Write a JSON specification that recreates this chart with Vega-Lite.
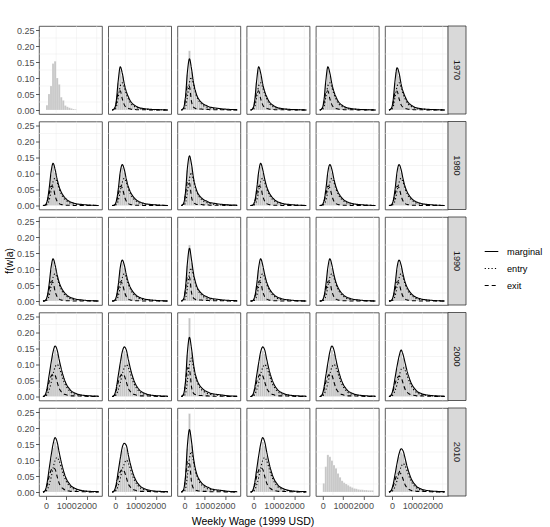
{
  "$schema": "https://vega.github.io/schema/vega-lite/v6.json",
  "padding": {"left": 4, "top": 25, "right": 5, "bottom": 2},
  "bounds": "flush",
  "spacing": {"row": 7.5, "column": 6.2},
  "data": {"values": [
{"g":"BI","t":1970,"w":50,"h":0.015,"s":"Black Immig."},
{"g":"BI","t":1970,"w":150,"h":0.05},
{"g":"BI","t":1970,"w":250,"h":0.075},
{"g":"BI","t":1970,"w":350,"h":0.145},
{"g":"BI","t":1970,"w":450,"h":0.152},
{"g":"BI","t":1970,"w":550,"h":0.1},
{"g":"BI","t":1970,"w":650,"h":0.08},
{"g":"BI","t":1970,"w":750,"h":0.04},
{"g":"BI","t":1970,"w":850,"h":0.03},
{"g":"BI","t":1970,"w":950,"h":0.014},
{"g":"BI","t":1970,"w":1050,"h":0.01},
{"g":"BI","t":1970,"w":1150,"h":0.007},
{"g":"BI","t":1970,"w":1250,"h":0.005},
{"g":"BI","t":1970,"w":1350,"h":0.003},
{"g":"BI","t":1970,"w":1450,"h":0.002},
{"g":"BN","t":1970,"w":-150,"m":0,"e":0,"x":0,"s":"Black Native"},
{"g":"BN","t":1970,"w":-50,"m":0.003,"e":0,"x":0.004},
{"g":"BN","t":1970,"w":50,"h":0.025,"m":0.027,"e":0.008,"x":0.02},
{"g":"BN","t":1970,"w":150,"h":0.085,"m":0.092,"e":0.04,"x":0.055},
{"g":"BN","t":1970,"w":250,"h":0.124,"m":0.135,"e":0.075,"x":0.06},
{"g":"BN","t":1970,"w":350,"h":0.106,"m":0.115,"e":0.085,"x":0.035},
{"g":"BN","t":1970,"w":450,"h":0.075,"m":0.081,"e":0.07,"x":0.016},
{"g":"BN","t":1970,"w":550,"h":0.052,"m":0.057,"e":0.05,"x":0.008},
{"g":"BN","t":1970,"w":650,"h":0.038,"m":0.041,"e":0.034,"x":0.005},
{"g":"BN","t":1970,"w":750,"h":0.026,"m":0.028,"e":0.022,"x":0.003},
{"g":"BN","t":1970,"w":850,"h":0.018,"m":0.02,"e":0.015,"x":0.002},
{"g":"BN","t":1970,"w":950,"h":0.014,"m":0.015,"e":0.011,"x":0.002},
{"g":"BN","t":1970,"w":1050,"h":0.01,"m":0.011,"e":0.008,"x":0.001},
{"g":"BN","t":1970,"w":1150,"h":0.007,"m":0.008,"e":0.006,"x":0.001},
{"g":"BN","t":1970,"w":1250,"h":0.006,"m":0.006,"e":0.004,"x":0.001},
{"g":"BN","t":1970,"w":1350,"h":0.005,"m":0.005,"e":0.003,"x":0.001},
{"g":"BN","t":1970,"w":1450,"h":0.004,"m":0.004,"e":0.003,"x":0.001},
{"g":"BN","t":1970,"w":1800,"m":0.002,"e":0.001,"x":0},
{"g":"BN","t":1970,"w":2200,"m":0.001,"e":0.001,"x":0},
{"g":"BN","t":1970,"w":2600,"m":0,"e":0,"x":0},
{"g":"HI","t":1970,"w":-150,"m":0,"e":0,"x":0,"s":"Hispanic Immig."},
{"g":"HI","t":1970,"w":-50,"m":0.005,"e":0.001,"x":0.004},
{"g":"HI","t":1970,"w":50,"h":0.036,"m":0.039,"e":0.007,"x":0.032},
{"g":"HI","t":1970,"w":150,"h":0.11,"m":0.12,"e":0.043,"x":0.077},
{"g":"HI","t":1970,"w":250,"h":0.185,"m":0.16,"e":0.086,"x":0.073},
{"g":"HI","t":1970,"w":350,"h":0.119,"m":0.129,"e":0.103,"x":0.026},
{"g":"HI","t":1970,"w":450,"h":0.079,"m":0.086,"e":0.077,"x":0.009},
{"g":"HI","t":1970,"w":550,"h":0.053,"m":0.058,"e":0.052,"x":0.005},
{"g":"HI","t":1970,"w":650,"h":0.037,"m":0.04,"e":0.036,"x":0.003},
{"g":"HI","t":1970,"w":750,"h":0.028,"m":0.03,"e":0.025,"x":0.003},
{"g":"HI","t":1970,"w":850,"h":0.021,"m":0.023,"e":0.018,"x":0.003},
{"g":"HI","t":1970,"w":950,"h":0.017,"m":0.018,"e":0.013,"x":0.002},
{"g":"HI","t":1970,"w":1050,"h":0.014,"m":0.015,"e":0.01,"x":0.002},
{"g":"HI","t":1970,"w":1150,"h":0.011,"m":0.012,"e":0.008,"x":0.002},
{"g":"HI","t":1970,"w":1250,"h":0.008,"m":0.009,"e":0.006,"x":0.001},
{"g":"HI","t":1970,"w":1350,"h":0.007,"m":0.008,"e":0.005,"x":0.001},
{"g":"HI","t":1970,"w":1450,"h":0.006,"m":0.007,"e":0.004,"x":0.001},
{"g":"HI","t":1970,"w":1800,"m":0.004,"e":0.002,"x":0.001},
{"g":"HI","t":1970,"w":2200,"m":0.002,"e":0.001,"x":0},
{"g":"HI","t":1970,"w":2600,"m":0.001,"e":0,"x":0},
{"g":"HN","t":1970,"w":-150,"m":0,"e":0,"x":0,"s":"Hispanic Native"},
{"g":"HN","t":1970,"w":-50,"m":0.003,"e":0,"x":0.004},
{"g":"HN","t":1970,"w":50,"h":0.025,"m":0.027,"e":0.008,"x":0.02},
{"g":"HN","t":1970,"w":150,"h":0.085,"m":0.092,"e":0.04,"x":0.055},
{"g":"HN","t":1970,"w":250,"h":0.124,"m":0.135,"e":0.075,"x":0.06},
{"g":"HN","t":1970,"w":350,"h":0.106,"m":0.115,"e":0.085,"x":0.035},
{"g":"HN","t":1970,"w":450,"h":0.075,"m":0.081,"e":0.07,"x":0.016},
{"g":"HN","t":1970,"w":550,"h":0.052,"m":0.057,"e":0.05,"x":0.008},
{"g":"HN","t":1970,"w":650,"h":0.038,"m":0.041,"e":0.034,"x":0.005},
{"g":"HN","t":1970,"w":750,"h":0.026,"m":0.028,"e":0.022,"x":0.003},
{"g":"HN","t":1970,"w":850,"h":0.018,"m":0.02,"e":0.015,"x":0.002},
{"g":"HN","t":1970,"w":950,"h":0.014,"m":0.015,"e":0.011,"x":0.002},
{"g":"HN","t":1970,"w":1050,"h":0.01,"m":0.011,"e":0.008,"x":0.001},
{"g":"HN","t":1970,"w":1150,"h":0.007,"m":0.008,"e":0.006,"x":0.001},
{"g":"HN","t":1970,"w":1250,"h":0.006,"m":0.006,"e":0.004,"x":0.001},
{"g":"HN","t":1970,"w":1350,"h":0.005,"m":0.005,"e":0.003,"x":0.001},
{"g":"HN","t":1970,"w":1450,"h":0.004,"m":0.004,"e":0.003,"x":0.001},
{"g":"HN","t":1970,"w":1800,"m":0.002,"e":0.001,"x":0},
{"g":"HN","t":1970,"w":2200,"m":0.001,"e":0.001,"x":0},
{"g":"HN","t":1970,"w":2600,"m":0,"e":0,"x":0},
{"g":"WI","t":1970,"w":-150,"m":0,"e":0,"x":0,"s":"White Immig."},
{"g":"WI","t":1970,"w":-50,"m":0.003,"e":0,"x":0.004},
{"g":"WI","t":1970,"w":50,"h":0.025,"m":0.027,"e":0.008,"x":0.02},
{"g":"WI","t":1970,"w":150,"h":0.085,"m":0.092,"e":0.04,"x":0.055},
{"g":"WI","t":1970,"w":250,"h":0.124,"m":0.135,"e":0.075,"x":0.06},
{"g":"WI","t":1970,"w":350,"h":0.106,"m":0.115,"e":0.085,"x":0.035},
{"g":"WI","t":1970,"w":450,"h":0.075,"m":0.081,"e":0.07,"x":0.016},
{"g":"WI","t":1970,"w":550,"h":0.052,"m":0.057,"e":0.05,"x":0.008},
{"g":"WI","t":1970,"w":650,"h":0.038,"m":0.041,"e":0.034,"x":0.005},
{"g":"WI","t":1970,"w":750,"h":0.026,"m":0.028,"e":0.022,"x":0.003},
{"g":"WI","t":1970,"w":850,"h":0.018,"m":0.02,"e":0.015,"x":0.002},
{"g":"WI","t":1970,"w":950,"h":0.014,"m":0.015,"e":0.011,"x":0.002},
{"g":"WI","t":1970,"w":1050,"h":0.01,"m":0.011,"e":0.008,"x":0.001},
{"g":"WI","t":1970,"w":1150,"h":0.007,"m":0.008,"e":0.006,"x":0.001},
{"g":"WI","t":1970,"w":1250,"h":0.006,"m":0.006,"e":0.004,"x":0.001},
{"g":"WI","t":1970,"w":1350,"h":0.005,"m":0.005,"e":0.003,"x":0.001},
{"g":"WI","t":1970,"w":1450,"h":0.004,"m":0.004,"e":0.003,"x":0.001},
{"g":"WI","t":1970,"w":1800,"m":0.002,"e":0.001,"x":0},
{"g":"WI","t":1970,"w":2200,"m":0.001,"e":0.001,"x":0},
{"g":"WI","t":1970,"w":2600,"m":0,"e":0,"x":0},
{"g":"WN","t":1970,"w":-150,"m":0,"e":0,"x":0,"s":"White Native","r":"1970"},
{"g":"WN","t":1970,"w":-50,"m":0.003,"e":0,"x":0.004},
{"g":"WN","t":1970,"w":50,"h":0.025,"m":0.027,"e":0.008,"x":0.02},
{"g":"WN","t":1970,"w":150,"h":0.085,"m":0.092,"e":0.04,"x":0.055},
{"g":"WN","t":1970,"w":250,"h":0.124,"m":0.132,"e":0.073,"x":0.059},
{"g":"WN","t":1970,"w":350,"h":0.106,"m":0.115,"e":0.085,"x":0.035},
{"g":"WN","t":1970,"w":450,"h":0.075,"m":0.081,"e":0.07,"x":0.016},
{"g":"WN","t":1970,"w":550,"h":0.052,"m":0.057,"e":0.05,"x":0.008},
{"g":"WN","t":1970,"w":650,"h":0.038,"m":0.041,"e":0.034,"x":0.005},
{"g":"WN","t":1970,"w":750,"h":0.026,"m":0.028,"e":0.022,"x":0.003},
{"g":"WN","t":1970,"w":850,"h":0.018,"m":0.02,"e":0.015,"x":0.002},
{"g":"WN","t":1970,"w":950,"h":0.014,"m":0.015,"e":0.011,"x":0.002},
{"g":"WN","t":1970,"w":1050,"h":0.01,"m":0.011,"e":0.008,"x":0.001},
{"g":"WN","t":1970,"w":1150,"h":0.007,"m":0.008,"e":0.006,"x":0.001},
{"g":"WN","t":1970,"w":1250,"h":0.006,"m":0.006,"e":0.004,"x":0.001},
{"g":"WN","t":1970,"w":1350,"h":0.005,"m":0.005,"e":0.003,"x":0.001},
{"g":"WN","t":1970,"w":1450,"h":0.004,"m":0.004,"e":0.003,"x":0.001},
{"g":"WN","t":1970,"w":1800,"m":0.002,"e":0.001,"x":0},
{"g":"WN","t":1970,"w":2200,"m":0.001,"e":0.001,"x":0},
{"g":"WN","t":1970,"w":2600,"m":0,"e":0,"x":0},
{"g":"BI","t":1980,"w":-150,"m":0,"e":0,"x":0},
{"g":"BI","t":1980,"w":-50,"m":0.001,"e":0,"x":0.001},
{"g":"BI","t":1980,"w":50,"h":0.011,"m":0.012,"e":0.003,"x":0.01},
{"g":"BI","t":1980,"w":150,"h":0.046,"m":0.05,"e":0.015,"x":0.035},
{"g":"BI","t":1980,"w":250,"h":0.097,"m":0.105,"e":0.045,"x":0.06},
{"g":"BI","t":1980,"w":350,"h":0.121,"m":0.132,"e":0.075,"x":0.057},
{"g":"BI","t":1980,"w":450,"h":0.103,"m":0.112,"e":0.085,"x":0.03},
{"g":"BI","t":1980,"w":550,"h":0.075,"m":0.082,"e":0.072,"x":0.013},
{"g":"BI","t":1980,"w":650,"h":0.053,"m":0.058,"e":0.052,"x":0.006},
{"g":"BI","t":1980,"w":750,"h":0.039,"m":0.042,"e":0.036,"x":0.003},
{"g":"BI","t":1980,"w":850,"h":0.029,"m":0.031,"e":0.025,"x":0.002},
{"g":"BI","t":1980,"w":950,"h":0.021,"m":0.023,"e":0.018,"x":0.001},
{"g":"BI","t":1980,"w":1050,"h":0.016,"m":0.017,"e":0.013,"x":0.001},
{"g":"BI","t":1980,"w":1150,"h":0.012,"m":0.013,"e":0.009,"x":0.001},
{"g":"BI","t":1980,"w":1250,"h":0.009,"m":0.01,"e":0.007,"x":0.001},
{"g":"BI","t":1980,"w":1350,"h":0.007,"m":0.008,"e":0.005,"x":0},
{"g":"BI","t":1980,"w":1450,"h":0.006,"m":0.006,"e":0.004,"x":0},
{"g":"BI","t":1980,"w":1800,"m":0.003,"e":0.002,"x":0},
{"g":"BI","t":1980,"w":2200,"m":0.001,"e":0.001,"x":0},
{"g":"BI","t":1980,"w":2600,"m":0,"e":0,"x":0},
{"g":"BN","t":1980,"w":-150,"m":0,"e":0,"x":0},
{"g":"BN","t":1980,"w":-50,"m":0.001,"e":0,"x":0.001},
{"g":"BN","t":1980,"w":50,"h":0.011,"m":0.012,"e":0.003,"x":0.01},
{"g":"BN","t":1980,"w":150,"h":0.046,"m":0.05,"e":0.015,"x":0.035},
{"g":"BN","t":1980,"w":250,"h":0.097,"m":0.105,"e":0.045,"x":0.06},
{"g":"BN","t":1980,"w":350,"h":0.118,"m":0.128,"e":0.073,"x":0.055},
{"g":"BN","t":1980,"w":450,"h":0.103,"m":0.112,"e":0.085,"x":0.03},
{"g":"BN","t":1980,"w":550,"h":0.075,"m":0.082,"e":0.072,"x":0.013},
{"g":"BN","t":1980,"w":650,"h":0.053,"m":0.058,"e":0.052,"x":0.006},
{"g":"BN","t":1980,"w":750,"h":0.039,"m":0.042,"e":0.036,"x":0.003},
{"g":"BN","t":1980,"w":850,"h":0.029,"m":0.031,"e":0.025,"x":0.002},
{"g":"BN","t":1980,"w":950,"h":0.021,"m":0.023,"e":0.018,"x":0.001},
{"g":"BN","t":1980,"w":1050,"h":0.016,"m":0.017,"e":0.013,"x":0.001},
{"g":"BN","t":1980,"w":1150,"h":0.012,"m":0.013,"e":0.009,"x":0.001},
{"g":"BN","t":1980,"w":1250,"h":0.009,"m":0.01,"e":0.007,"x":0.001},
{"g":"BN","t":1980,"w":1350,"h":0.007,"m":0.008,"e":0.005,"x":0},
{"g":"BN","t":1980,"w":1450,"h":0.006,"m":0.006,"e":0.004,"x":0},
{"g":"BN","t":1980,"w":1800,"m":0.003,"e":0.002,"x":0},
{"g":"BN","t":1980,"w":2200,"m":0.001,"e":0.001,"x":0},
{"g":"BN","t":1980,"w":2600,"m":0,"e":0,"x":0},
{"g":"HI","t":1980,"w":-150,"m":0,"e":0,"x":0},
{"g":"HI","t":1980,"w":-50,"m":0.005,"e":0.001,"x":0.004},
{"g":"HI","t":1980,"w":50,"h":0.036,"m":0.039,"e":0.007,"x":0.032},
{"g":"HI","t":1980,"w":150,"h":0.11,"m":0.118,"e":0.043,"x":0.075},
{"g":"HI","t":1980,"w":250,"h":0.148,"m":0.155,"e":0.084,"x":0.071},
{"g":"HI","t":1980,"w":350,"h":0.119,"m":0.129,"e":0.103,"x":0.026},
{"g":"HI","t":1980,"w":450,"h":0.079,"m":0.086,"e":0.077,"x":0.009},
{"g":"HI","t":1980,"w":550,"h":0.053,"m":0.058,"e":0.052,"x":0.005},
{"g":"HI","t":1980,"w":650,"h":0.037,"m":0.04,"e":0.036,"x":0.003},
{"g":"HI","t":1980,"w":750,"h":0.028,"m":0.03,"e":0.025,"x":0.003},
{"g":"HI","t":1980,"w":850,"h":0.021,"m":0.023,"e":0.018,"x":0.003},
{"g":"HI","t":1980,"w":950,"h":0.017,"m":0.018,"e":0.013,"x":0.002},
{"g":"HI","t":1980,"w":1050,"h":0.014,"m":0.015,"e":0.01,"x":0.002},
{"g":"HI","t":1980,"w":1150,"h":0.011,"m":0.012,"e":0.008,"x":0.002},
{"g":"HI","t":1980,"w":1250,"h":0.008,"m":0.009,"e":0.006,"x":0.001},
{"g":"HI","t":1980,"w":1350,"h":0.007,"m":0.008,"e":0.005,"x":0.001},
{"g":"HI","t":1980,"w":1450,"h":0.006,"m":0.007,"e":0.004,"x":0.001},
{"g":"HI","t":1980,"w":1800,"m":0.004,"e":0.002,"x":0.001},
{"g":"HI","t":1980,"w":2200,"m":0.002,"e":0.001,"x":0},
{"g":"HI","t":1980,"w":2600,"m":0.001,"e":0,"x":0},
{"g":"HN","t":1980,"w":-150,"m":0,"e":0,"x":0},
{"g":"HN","t":1980,"w":-50,"m":0.001,"e":0,"x":0.001},
{"g":"HN","t":1980,"w":50,"h":0.011,"m":0.012,"e":0.003,"x":0.01},
{"g":"HN","t":1980,"w":150,"h":0.046,"m":0.05,"e":0.015,"x":0.035},
{"g":"HN","t":1980,"w":250,"h":0.097,"m":0.105,"e":0.045,"x":0.06},
{"g":"HN","t":1980,"w":350,"h":0.121,"m":0.132,"e":0.075,"x":0.057},
{"g":"HN","t":1980,"w":450,"h":0.103,"m":0.112,"e":0.085,"x":0.03},
{"g":"HN","t":1980,"w":550,"h":0.075,"m":0.082,"e":0.072,"x":0.013},
{"g":"HN","t":1980,"w":650,"h":0.053,"m":0.058,"e":0.052,"x":0.006},
{"g":"HN","t":1980,"w":750,"h":0.039,"m":0.042,"e":0.036,"x":0.003},
{"g":"HN","t":1980,"w":850,"h":0.029,"m":0.031,"e":0.025,"x":0.002},
{"g":"HN","t":1980,"w":950,"h":0.021,"m":0.023,"e":0.018,"x":0.001},
{"g":"HN","t":1980,"w":1050,"h":0.016,"m":0.017,"e":0.013,"x":0.001},
{"g":"HN","t":1980,"w":1150,"h":0.012,"m":0.013,"e":0.009,"x":0.001},
{"g":"HN","t":1980,"w":1250,"h":0.009,"m":0.01,"e":0.007,"x":0.001},
{"g":"HN","t":1980,"w":1350,"h":0.007,"m":0.008,"e":0.005,"x":0},
{"g":"HN","t":1980,"w":1450,"h":0.006,"m":0.006,"e":0.004,"x":0},
{"g":"HN","t":1980,"w":1800,"m":0.003,"e":0.002,"x":0},
{"g":"HN","t":1980,"w":2200,"m":0.001,"e":0.001,"x":0},
{"g":"HN","t":1980,"w":2600,"m":0,"e":0,"x":0},
{"g":"WI","t":1980,"w":-150,"m":0,"e":0,"x":0},
{"g":"WI","t":1980,"w":-50,"m":0.001,"e":0,"x":0.001},
{"g":"WI","t":1980,"w":50,"h":0.011,"m":0.012,"e":0.003,"x":0.01},
{"g":"WI","t":1980,"w":150,"h":0.046,"m":0.05,"e":0.015,"x":0.035},
{"g":"WI","t":1980,"w":250,"h":0.097,"m":0.105,"e":0.045,"x":0.06},
{"g":"WI","t":1980,"w":350,"h":0.118,"m":0.128,"e":0.073,"x":0.055},
{"g":"WI","t":1980,"w":450,"h":0.103,"m":0.112,"e":0.085,"x":0.03},
{"g":"WI","t":1980,"w":550,"h":0.075,"m":0.082,"e":0.072,"x":0.013},
{"g":"WI","t":1980,"w":650,"h":0.053,"m":0.058,"e":0.052,"x":0.006},
{"g":"WI","t":1980,"w":750,"h":0.039,"m":0.042,"e":0.036,"x":0.003},
{"g":"WI","t":1980,"w":850,"h":0.029,"m":0.031,"e":0.025,"x":0.002},
{"g":"WI","t":1980,"w":950,"h":0.021,"m":0.023,"e":0.018,"x":0.001},
{"g":"WI","t":1980,"w":1050,"h":0.016,"m":0.017,"e":0.013,"x":0.001},
{"g":"WI","t":1980,"w":1150,"h":0.012,"m":0.013,"e":0.009,"x":0.001},
{"g":"WI","t":1980,"w":1250,"h":0.009,"m":0.01,"e":0.007,"x":0.001},
{"g":"WI","t":1980,"w":1350,"h":0.007,"m":0.008,"e":0.005,"x":0},
{"g":"WI","t":1980,"w":1450,"h":0.006,"m":0.006,"e":0.004,"x":0},
{"g":"WI","t":1980,"w":1800,"m":0.003,"e":0.002,"x":0},
{"g":"WI","t":1980,"w":2200,"m":0.001,"e":0.001,"x":0},
{"g":"WI","t":1980,"w":2600,"m":0,"e":0,"x":0},
{"g":"WN","t":1980,"w":-150,"m":0,"e":0,"x":0,"r":"1980"},
{"g":"WN","t":1980,"w":-50,"m":0.001,"e":0,"x":0.001},
{"g":"WN","t":1980,"w":50,"h":0.011,"m":0.012,"e":0.003,"x":0.01},
{"g":"WN","t":1980,"w":150,"h":0.046,"m":0.05,"e":0.015,"x":0.035},
{"g":"WN","t":1980,"w":250,"h":0.097,"m":0.105,"e":0.045,"x":0.06},
{"g":"WN","t":1980,"w":350,"h":0.118,"m":0.128,"e":0.073,"x":0.055},
{"g":"WN","t":1980,"w":450,"h":0.103,"m":0.112,"e":0.085,"x":0.03},
{"g":"WN","t":1980,"w":550,"h":0.075,"m":0.082,"e":0.072,"x":0.013},
{"g":"WN","t":1980,"w":650,"h":0.053,"m":0.058,"e":0.052,"x":0.006},
{"g":"WN","t":1980,"w":750,"h":0.039,"m":0.042,"e":0.036,"x":0.003},
{"g":"WN","t":1980,"w":850,"h":0.029,"m":0.031,"e":0.025,"x":0.002},
{"g":"WN","t":1980,"w":950,"h":0.021,"m":0.023,"e":0.018,"x":0.001},
{"g":"WN","t":1980,"w":1050,"h":0.016,"m":0.017,"e":0.013,"x":0.001},
{"g":"WN","t":1980,"w":1150,"h":0.012,"m":0.013,"e":0.009,"x":0.001},
{"g":"WN","t":1980,"w":1250,"h":0.009,"m":0.01,"e":0.007,"x":0.001},
{"g":"WN","t":1980,"w":1350,"h":0.007,"m":0.008,"e":0.005,"x":0},
{"g":"WN","t":1980,"w":1450,"h":0.006,"m":0.006,"e":0.004,"x":0},
{"g":"WN","t":1980,"w":1800,"m":0.003,"e":0.002,"x":0},
{"g":"WN","t":1980,"w":2200,"m":0.001,"e":0.001,"x":0},
{"g":"WN","t":1980,"w":2600,"m":0,"e":0,"x":0},
{"g":"BI","t":1990,"w":-150,"m":0,"e":0,"x":0},
{"g":"BI","t":1990,"w":-50,"m":0.001,"e":0,"x":0.001},
{"g":"BI","t":1990,"w":50,"h":0.011,"m":0.012,"e":0.003,"x":0.01},
{"g":"BI","t":1990,"w":150,"h":0.046,"m":0.05,"e":0.015,"x":0.035},
{"g":"BI","t":1990,"w":250,"h":0.097,"m":0.105,"e":0.045,"x":0.06},
{"g":"BI","t":1990,"w":350,"h":0.121,"m":0.132,"e":0.075,"x":0.057},
{"g":"BI","t":1990,"w":450,"h":0.103,"m":0.112,"e":0.085,"x":0.03},
{"g":"BI","t":1990,"w":550,"h":0.075,"m":0.082,"e":0.072,"x":0.013},
{"g":"BI","t":1990,"w":650,"h":0.053,"m":0.058,"e":0.052,"x":0.006},
{"g":"BI","t":1990,"w":750,"h":0.039,"m":0.042,"e":0.036,"x":0.003},
{"g":"BI","t":1990,"w":850,"h":0.029,"m":0.031,"e":0.025,"x":0.002},
{"g":"BI","t":1990,"w":950,"h":0.021,"m":0.023,"e":0.018,"x":0.001},
{"g":"BI","t":1990,"w":1050,"h":0.016,"m":0.017,"e":0.013,"x":0.001},
{"g":"BI","t":1990,"w":1150,"h":0.012,"m":0.013,"e":0.009,"x":0.001},
{"g":"BI","t":1990,"w":1250,"h":0.009,"m":0.01,"e":0.007,"x":0.001},
{"g":"BI","t":1990,"w":1350,"h":0.007,"m":0.008,"e":0.005,"x":0},
{"g":"BI","t":1990,"w":1450,"h":0.006,"m":0.006,"e":0.004,"x":0},
{"g":"BI","t":1990,"w":1800,"m":0.003,"e":0.002,"x":0},
{"g":"BI","t":1990,"w":2200,"m":0.001,"e":0.001,"x":0},
{"g":"BI","t":1990,"w":2600,"m":0,"e":0,"x":0},
{"g":"BN","t":1990,"w":-150,"m":0,"e":0,"x":0},
{"g":"BN","t":1990,"w":-50,"m":0.001,"e":0,"x":0.001},
{"g":"BN","t":1990,"w":50,"h":0.011,"m":0.012,"e":0.003,"x":0.01},
{"g":"BN","t":1990,"w":150,"h":0.046,"m":0.05,"e":0.015,"x":0.035},
{"g":"BN","t":1990,"w":250,"h":0.097,"m":0.105,"e":0.045,"x":0.06},
{"g":"BN","t":1990,"w":350,"h":0.118,"m":0.128,"e":0.073,"x":0.055},
{"g":"BN","t":1990,"w":450,"h":0.103,"m":0.112,"e":0.085,"x":0.03},
{"g":"BN","t":1990,"w":550,"h":0.075,"m":0.082,"e":0.072,"x":0.013},
{"g":"BN","t":1990,"w":650,"h":0.053,"m":0.058,"e":0.052,"x":0.006},
{"g":"BN","t":1990,"w":750,"h":0.039,"m":0.042,"e":0.036,"x":0.003},
{"g":"BN","t":1990,"w":850,"h":0.029,"m":0.031,"e":0.025,"x":0.002},
{"g":"BN","t":1990,"w":950,"h":0.021,"m":0.023,"e":0.018,"x":0.001},
{"g":"BN","t":1990,"w":1050,"h":0.016,"m":0.017,"e":0.013,"x":0.001},
{"g":"BN","t":1990,"w":1150,"h":0.012,"m":0.013,"e":0.009,"x":0.001},
{"g":"BN","t":1990,"w":1250,"h":0.009,"m":0.01,"e":0.007,"x":0.001},
{"g":"BN","t":1990,"w":1350,"h":0.007,"m":0.008,"e":0.005,"x":0},
{"g":"BN","t":1990,"w":1450,"h":0.006,"m":0.006,"e":0.004,"x":0},
{"g":"BN","t":1990,"w":1800,"m":0.003,"e":0.002,"x":0},
{"g":"BN","t":1990,"w":2200,"m":0.001,"e":0.001,"x":0},
{"g":"BN","t":1990,"w":2600,"m":0,"e":0,"x":0},
{"g":"HI","t":1990,"w":-150,"m":0,"e":0,"x":0},
{"g":"HI","t":1990,"w":-50,"m":0.005,"e":0.001,"x":0.004},
{"g":"HI","t":1990,"w":50,"h":0.036,"m":0.039,"e":0.007,"x":0.032},
{"g":"HI","t":1990,"w":150,"h":0.11,"m":0.12,"e":0.043,"x":0.077},
{"g":"HI","t":1990,"w":250,"h":0.175,"m":0.165,"e":0.089,"x":0.075},
{"g":"HI","t":1990,"w":350,"h":0.119,"m":0.129,"e":0.103,"x":0.026},
{"g":"HI","t":1990,"w":450,"h":0.079,"m":0.086,"e":0.077,"x":0.009},
{"g":"HI","t":1990,"w":550,"h":0.053,"m":0.058,"e":0.052,"x":0.005},
{"g":"HI","t":1990,"w":650,"h":0.037,"m":0.04,"e":0.036,"x":0.003},
{"g":"HI","t":1990,"w":750,"h":0.028,"m":0.03,"e":0.025,"x":0.003},
{"g":"HI","t":1990,"w":850,"h":0.021,"m":0.023,"e":0.018,"x":0.003},
{"g":"HI","t":1990,"w":950,"h":0.017,"m":0.018,"e":0.013,"x":0.002},
{"g":"HI","t":1990,"w":1050,"h":0.014,"m":0.015,"e":0.01,"x":0.002},
{"g":"HI","t":1990,"w":1150,"h":0.011,"m":0.012,"e":0.008,"x":0.002},
{"g":"HI","t":1990,"w":1250,"h":0.008,"m":0.009,"e":0.006,"x":0.001},
{"g":"HI","t":1990,"w":1350,"h":0.007,"m":0.008,"e":0.005,"x":0.001},
{"g":"HI","t":1990,"w":1450,"h":0.006,"m":0.007,"e":0.004,"x":0.001},
{"g":"HI","t":1990,"w":1800,"m":0.004,"e":0.002,"x":0.001},
{"g":"HI","t":1990,"w":2200,"m":0.002,"e":0.001,"x":0},
{"g":"HI","t":1990,"w":2600,"m":0.001,"e":0,"x":0},
{"g":"HN","t":1990,"w":-150,"m":0,"e":0,"x":0},
{"g":"HN","t":1990,"w":-50,"m":0.001,"e":0,"x":0.001},
{"g":"HN","t":1990,"w":50,"h":0.011,"m":0.012,"e":0.003,"x":0.01},
{"g":"HN","t":1990,"w":150,"h":0.046,"m":0.05,"e":0.015,"x":0.035},
{"g":"HN","t":1990,"w":250,"h":0.097,"m":0.105,"e":0.045,"x":0.06},
{"g":"HN","t":1990,"w":350,"h":0.121,"m":0.132,"e":0.075,"x":0.057},
{"g":"HN","t":1990,"w":450,"h":0.103,"m":0.112,"e":0.085,"x":0.03},
{"g":"HN","t":1990,"w":550,"h":0.075,"m":0.082,"e":0.072,"x":0.013},
{"g":"HN","t":1990,"w":650,"h":0.053,"m":0.058,"e":0.052,"x":0.006},
{"g":"HN","t":1990,"w":750,"h":0.039,"m":0.042,"e":0.036,"x":0.003},
{"g":"HN","t":1990,"w":850,"h":0.029,"m":0.031,"e":0.025,"x":0.002},
{"g":"HN","t":1990,"w":950,"h":0.021,"m":0.023,"e":0.018,"x":0.001},
{"g":"HN","t":1990,"w":1050,"h":0.016,"m":0.017,"e":0.013,"x":0.001},
{"g":"HN","t":1990,"w":1150,"h":0.012,"m":0.013,"e":0.009,"x":0.001},
{"g":"HN","t":1990,"w":1250,"h":0.009,"m":0.01,"e":0.007,"x":0.001},
{"g":"HN","t":1990,"w":1350,"h":0.007,"m":0.008,"e":0.005,"x":0},
{"g":"HN","t":1990,"w":1450,"h":0.006,"m":0.006,"e":0.004,"x":0},
{"g":"HN","t":1990,"w":1800,"m":0.003,"e":0.002,"x":0},
{"g":"HN","t":1990,"w":2200,"m":0.001,"e":0.001,"x":0},
{"g":"HN","t":1990,"w":2600,"m":0,"e":0,"x":0},
{"g":"WI","t":1990,"w":-150,"m":0,"e":0,"x":0},
{"g":"WI","t":1990,"w":-50,"m":0.001,"e":0,"x":0.001},
{"g":"WI","t":1990,"w":50,"h":0.011,"m":0.012,"e":0.003,"x":0.01},
{"g":"WI","t":1990,"w":150,"h":0.046,"m":0.05,"e":0.015,"x":0.035},
{"g":"WI","t":1990,"w":250,"h":0.097,"m":0.105,"e":0.045,"x":0.06},
{"g":"WI","t":1990,"w":350,"h":0.121,"m":0.132,"e":0.075,"x":0.057},
{"g":"WI","t":1990,"w":450,"h":0.103,"m":0.112,"e":0.085,"x":0.03},
{"g":"WI","t":1990,"w":550,"h":0.075,"m":0.082,"e":0.072,"x":0.013},
{"g":"WI","t":1990,"w":650,"h":0.053,"m":0.058,"e":0.052,"x":0.006},
{"g":"WI","t":1990,"w":750,"h":0.039,"m":0.042,"e":0.036,"x":0.003},
{"g":"WI","t":1990,"w":850,"h":0.029,"m":0.031,"e":0.025,"x":0.002},
{"g":"WI","t":1990,"w":950,"h":0.021,"m":0.023,"e":0.018,"x":0.001},
{"g":"WI","t":1990,"w":1050,"h":0.016,"m":0.017,"e":0.013,"x":0.001},
{"g":"WI","t":1990,"w":1150,"h":0.012,"m":0.013,"e":0.009,"x":0.001},
{"g":"WI","t":1990,"w":1250,"h":0.009,"m":0.01,"e":0.007,"x":0.001},
{"g":"WI","t":1990,"w":1350,"h":0.007,"m":0.008,"e":0.005,"x":0},
{"g":"WI","t":1990,"w":1450,"h":0.006,"m":0.006,"e":0.004,"x":0},
{"g":"WI","t":1990,"w":1800,"m":0.003,"e":0.002,"x":0},
{"g":"WI","t":1990,"w":2200,"m":0.001,"e":0.001,"x":0},
{"g":"WI","t":1990,"w":2600,"m":0,"e":0,"x":0},
{"g":"WN","t":1990,"w":-150,"m":0,"e":0,"x":0,"r":"1990"},
{"g":"WN","t":1990,"w":-50,"m":0.001,"e":0,"x":0.001},
{"g":"WN","t":1990,"w":50,"h":0.011,"m":0.012,"e":0.003,"x":0.01},
{"g":"WN","t":1990,"w":150,"h":0.046,"m":0.05,"e":0.015,"x":0.035},
{"g":"WN","t":1990,"w":250,"h":0.097,"m":0.105,"e":0.045,"x":0.06},
{"g":"WN","t":1990,"w":350,"h":0.118,"m":0.128,"e":0.073,"x":0.055},
{"g":"WN","t":1990,"w":450,"h":0.103,"m":0.112,"e":0.085,"x":0.03},
{"g":"WN","t":1990,"w":550,"h":0.075,"m":0.082,"e":0.072,"x":0.013},
{"g":"WN","t":1990,"w":650,"h":0.053,"m":0.058,"e":0.052,"x":0.006},
{"g":"WN","t":1990,"w":750,"h":0.039,"m":0.042,"e":0.036,"x":0.003},
{"g":"WN","t":1990,"w":850,"h":0.029,"m":0.031,"e":0.025,"x":0.002},
{"g":"WN","t":1990,"w":950,"h":0.021,"m":0.023,"e":0.018,"x":0.001},
{"g":"WN","t":1990,"w":1050,"h":0.016,"m":0.017,"e":0.013,"x":0.001},
{"g":"WN","t":1990,"w":1150,"h":0.012,"m":0.013,"e":0.009,"x":0.001},
{"g":"WN","t":1990,"w":1250,"h":0.009,"m":0.01,"e":0.007,"x":0.001},
{"g":"WN","t":1990,"w":1350,"h":0.007,"m":0.008,"e":0.005,"x":0},
{"g":"WN","t":1990,"w":1450,"h":0.006,"m":0.006,"e":0.004,"x":0},
{"g":"WN","t":1990,"w":1800,"m":0.003,"e":0.002,"x":0},
{"g":"WN","t":1990,"w":2200,"m":0.001,"e":0.001,"x":0},
{"g":"WN","t":1990,"w":2600,"m":0,"e":0,"x":0},
{"g":"BI","t":2000,"w":-150,"m":0,"e":0,"x":0},
{"g":"BI","t":2000,"w":-50,"m":0.004,"e":0.001,"x":0.003},
{"g":"BI","t":2000,"w":50,"h":0.023,"m":0.025,"e":0.006,"x":0.019},
{"g":"BI","t":2000,"w":150,"h":0.06,"m":0.065,"e":0.02,"x":0.045},
{"g":"BI","t":2000,"w":250,"h":0.097,"m":0.105,"e":0.042,"x":0.063},
{"g":"BI","t":2000,"w":350,"h":0.129,"m":0.14,"e":0.07,"x":0.07},
{"g":"BI","t":2000,"w":450,"h":0.145,"m":0.158,"e":0.092,"x":0.066},
{"g":"BI","t":2000,"w":550,"h":0.133,"m":0.145,"e":0.1,"x":0.045},
{"g":"BI","t":2000,"w":650,"h":0.106,"m":0.115,"e":0.09,"x":0.025},
{"g":"BI","t":2000,"w":750,"h":0.08,"m":0.087,"e":0.072,"x":0.015},
{"g":"BI","t":2000,"w":850,"h":0.059,"m":0.064,"e":0.052,"x":0.009},
{"g":"BI","t":2000,"w":950,"h":0.042,"m":0.046,"e":0.037,"x":0.006},
{"g":"BI","t":2000,"w":1050,"h":0.03,"m":0.033,"e":0.026,"x":0.004},
{"g":"BI","t":2000,"w":1150,"h":0.022,"m":0.024,"e":0.018,"x":0.003},
{"g":"BI","t":2000,"w":1250,"h":0.016,"m":0.017,"e":0.012,"x":0.002},
{"g":"BI","t":2000,"w":1350,"h":0.012,"m":0.013,"e":0.009,"x":0.002},
{"g":"BI","t":2000,"w":1450,"h":0.009,"m":0.01,"e":0.007,"x":0.002},
{"g":"BI","t":2000,"w":1800,"m":0.004,"e":0.003,"x":0.001},
{"g":"BI","t":2000,"w":2200,"m":0.002,"e":0.001,"x":0},
{"g":"BI","t":2000,"w":2600,"m":0.001,"e":0,"x":0},
{"g":"BN","t":2000,"w":-150,"m":0,"e":0,"x":0},
{"g":"BN","t":2000,"w":-50,"m":0.004,"e":0.001,"x":0.003},
{"g":"BN","t":2000,"w":50,"h":0.023,"m":0.025,"e":0.006,"x":0.019},
{"g":"BN","t":2000,"w":150,"h":0.06,"m":0.065,"e":0.02,"x":0.045},
{"g":"BN","t":2000,"w":250,"h":0.097,"m":0.105,"e":0.042,"x":0.063},
{"g":"BN","t":2000,"w":350,"h":0.129,"m":0.14,"e":0.07,"x":0.07},
{"g":"BN","t":2000,"w":450,"h":0.143,"m":0.155,"e":0.09,"x":0.065},
{"g":"BN","t":2000,"w":550,"h":0.133,"m":0.145,"e":0.1,"x":0.045},
{"g":"BN","t":2000,"w":650,"h":0.106,"m":0.115,"e":0.09,"x":0.025},
{"g":"BN","t":2000,"w":750,"h":0.08,"m":0.087,"e":0.072,"x":0.015},
{"g":"BN","t":2000,"w":850,"h":0.059,"m":0.064,"e":0.052,"x":0.009},
{"g":"BN","t":2000,"w":950,"h":0.042,"m":0.046,"e":0.037,"x":0.006},
{"g":"BN","t":2000,"w":1050,"h":0.03,"m":0.033,"e":0.026,"x":0.004},
{"g":"BN","t":2000,"w":1150,"h":0.022,"m":0.024,"e":0.018,"x":0.003},
{"g":"BN","t":2000,"w":1250,"h":0.016,"m":0.017,"e":0.012,"x":0.002},
{"g":"BN","t":2000,"w":1350,"h":0.012,"m":0.013,"e":0.009,"x":0.002},
{"g":"BN","t":2000,"w":1450,"h":0.009,"m":0.01,"e":0.007,"x":0.002},
{"g":"BN","t":2000,"w":1800,"m":0.004,"e":0.003,"x":0.001},
{"g":"BN","t":2000,"w":2200,"m":0.002,"e":0.001,"x":0},
{"g":"BN","t":2000,"w":2600,"m":0.001,"e":0,"x":0},
{"g":"HI","t":2000,"w":-150,"m":0,"e":0,"x":0},
{"g":"HI","t":2000,"w":-50,"m":0.006,"e":0.001,"x":0.005},
{"g":"HI","t":2000,"w":50,"h":0.041,"m":0.045,"e":0.008,"x":0.037},
{"g":"HI","t":2000,"w":150,"h":0.129,"m":0.14,"e":0.05,"x":0.09},
{"g":"HI","t":2000,"w":250,"h":0.245,"m":0.185,"e":0.1,"x":0.085},
{"g":"HI","t":2000,"w":350,"h":0.138,"m":0.15,"e":0.12,"x":0.03},
{"g":"HI","t":2000,"w":450,"h":0.092,"m":0.1,"e":0.09,"x":0.01},
{"g":"HI","t":2000,"w":550,"h":0.062,"m":0.067,"e":0.06,"x":0.006},
{"g":"HI","t":2000,"w":650,"h":0.043,"m":0.047,"e":0.042,"x":0.004},
{"g":"HI","t":2000,"w":750,"h":0.032,"m":0.035,"e":0.029,"x":0.003},
{"g":"HI","t":2000,"w":850,"h":0.025,"m":0.027,"e":0.021,"x":0.003},
{"g":"HI","t":2000,"w":950,"h":0.019,"m":0.021,"e":0.016,"x":0.002},
{"g":"HI","t":2000,"w":1050,"h":0.016,"m":0.017,"e":0.012,"x":0.002},
{"g":"HI","t":2000,"w":1150,"h":0.013,"m":0.014,"e":0.009,"x":0.002},
{"g":"HI","t":2000,"w":1250,"h":0.01,"m":0.011,"e":0.007,"x":0.001},
{"g":"HI","t":2000,"w":1350,"h":0.008,"m":0.009,"e":0.006,"x":0.001},
{"g":"HI","t":2000,"w":1450,"h":0.007,"m":0.008,"e":0.005,"x":0.001},
{"g":"HI","t":2000,"w":1800,"m":0.005,"e":0.003,"x":0.001},
{"g":"HI","t":2000,"w":2200,"m":0.002,"e":0.001,"x":0},
{"g":"HI","t":2000,"w":2600,"m":0.001,"e":0,"x":0},
{"g":"HN","t":2000,"w":-150,"m":0,"e":0,"x":0},
{"g":"HN","t":2000,"w":-50,"m":0.004,"e":0.001,"x":0.003},
{"g":"HN","t":2000,"w":50,"h":0.023,"m":0.025,"e":0.006,"x":0.019},
{"g":"HN","t":2000,"w":150,"h":0.06,"m":0.065,"e":0.02,"x":0.045},
{"g":"HN","t":2000,"w":250,"h":0.097,"m":0.105,"e":0.042,"x":0.063},
{"g":"HN","t":2000,"w":350,"h":0.129,"m":0.14,"e":0.07,"x":0.07},
{"g":"HN","t":2000,"w":450,"h":0.143,"m":0.155,"e":0.09,"x":0.065},
{"g":"HN","t":2000,"w":550,"h":0.133,"m":0.145,"e":0.1,"x":0.045},
{"g":"HN","t":2000,"w":650,"h":0.106,"m":0.115,"e":0.09,"x":0.025},
{"g":"HN","t":2000,"w":750,"h":0.08,"m":0.087,"e":0.072,"x":0.015},
{"g":"HN","t":2000,"w":850,"h":0.059,"m":0.064,"e":0.052,"x":0.009},
{"g":"HN","t":2000,"w":950,"h":0.042,"m":0.046,"e":0.037,"x":0.006},
{"g":"HN","t":2000,"w":1050,"h":0.03,"m":0.033,"e":0.026,"x":0.004},
{"g":"HN","t":2000,"w":1150,"h":0.022,"m":0.024,"e":0.018,"x":0.003},
{"g":"HN","t":2000,"w":1250,"h":0.016,"m":0.017,"e":0.012,"x":0.002},
{"g":"HN","t":2000,"w":1350,"h":0.012,"m":0.013,"e":0.009,"x":0.002},
{"g":"HN","t":2000,"w":1450,"h":0.009,"m":0.01,"e":0.007,"x":0.002},
{"g":"HN","t":2000,"w":1800,"m":0.004,"e":0.003,"x":0.001},
{"g":"HN","t":2000,"w":2200,"m":0.002,"e":0.001,"x":0},
{"g":"HN","t":2000,"w":2600,"m":0.001,"e":0,"x":0},
{"g":"WI","t":2000,"w":-150,"m":0,"e":0,"x":0},
{"g":"WI","t":2000,"w":-50,"m":0.004,"e":0.001,"x":0.003},
{"g":"WI","t":2000,"w":50,"h":0.023,"m":0.025,"e":0.006,"x":0.019},
{"g":"WI","t":2000,"w":150,"h":0.06,"m":0.065,"e":0.02,"x":0.045},
{"g":"WI","t":2000,"w":250,"h":0.097,"m":0.105,"e":0.042,"x":0.063},
{"g":"WI","t":2000,"w":350,"h":0.129,"m":0.14,"e":0.07,"x":0.07},
{"g":"WI","t":2000,"w":450,"h":0.145,"m":0.158,"e":0.092,"x":0.066},
{"g":"WI","t":2000,"w":550,"h":0.133,"m":0.145,"e":0.1,"x":0.045},
{"g":"WI","t":2000,"w":650,"h":0.106,"m":0.115,"e":0.09,"x":0.025},
{"g":"WI","t":2000,"w":750,"h":0.08,"m":0.087,"e":0.072,"x":0.015},
{"g":"WI","t":2000,"w":850,"h":0.059,"m":0.064,"e":0.052,"x":0.009},
{"g":"WI","t":2000,"w":950,"h":0.042,"m":0.046,"e":0.037,"x":0.006},
{"g":"WI","t":2000,"w":1050,"h":0.03,"m":0.033,"e":0.026,"x":0.004},
{"g":"WI","t":2000,"w":1150,"h":0.022,"m":0.024,"e":0.018,"x":0.003},
{"g":"WI","t":2000,"w":1250,"h":0.016,"m":0.017,"e":0.012,"x":0.002},
{"g":"WI","t":2000,"w":1350,"h":0.012,"m":0.013,"e":0.009,"x":0.002},
{"g":"WI","t":2000,"w":1450,"h":0.009,"m":0.01,"e":0.007,"x":0.002},
{"g":"WI","t":2000,"w":1800,"m":0.004,"e":0.003,"x":0.001},
{"g":"WI","t":2000,"w":2200,"m":0.002,"e":0.001,"x":0},
{"g":"WI","t":2000,"w":2600,"m":0.001,"e":0,"x":0},
{"g":"WN","t":2000,"w":-150,"m":0,"e":0,"x":0,"r":"2000"},
{"g":"WN","t":2000,"w":-50,"m":0.004,"e":0.001,"x":0.003},
{"g":"WN","t":2000,"w":50,"h":0.02,"m":0.022,"e":0.005,"x":0.017},
{"g":"WN","t":2000,"w":150,"h":0.053,"m":0.058,"e":0.018,"x":0.04},
{"g":"WN","t":2000,"w":250,"h":0.087,"m":0.095,"e":0.038,"x":0.057},
{"g":"WN","t":2000,"w":350,"h":0.116,"m":0.126,"e":0.063,"x":0.063},
{"g":"WN","t":2000,"w":450,"h":0.134,"m":0.145,"e":0.085,"x":0.06},
{"g":"WN","t":2000,"w":550,"h":0.12,"m":0.13,"e":0.09,"x":0.04},
{"g":"WN","t":2000,"w":650,"h":0.096,"m":0.104,"e":0.081,"x":0.022},
{"g":"WN","t":2000,"w":750,"h":0.072,"m":0.078,"e":0.065,"x":0.013},
{"g":"WN","t":2000,"w":850,"h":0.053,"m":0.058,"e":0.047,"x":0.008},
{"g":"WN","t":2000,"w":950,"h":0.038,"m":0.041,"e":0.033,"x":0.005},
{"g":"WN","t":2000,"w":1050,"h":0.028,"m":0.03,"e":0.023,"x":0.004},
{"g":"WN","t":2000,"w":1150,"h":0.02,"m":0.022,"e":0.016,"x":0.003},
{"g":"WN","t":2000,"w":1250,"h":0.014,"m":0.015,"e":0.011,"x":0.002},
{"g":"WN","t":2000,"w":1350,"h":0.011,"m":0.012,"e":0.008,"x":0.002},
{"g":"WN","t":2000,"w":1450,"h":0.008,"m":0.009,"e":0.006,"x":0.002},
{"g":"WN","t":2000,"w":1800,"m":0.004,"e":0.003,"x":0.001},
{"g":"WN","t":2000,"w":2200,"m":0.002,"e":0.001,"x":0},
{"g":"WN","t":2000,"w":2600,"m":0.001,"e":0,"x":0},
{"g":"BI","t":2010,"w":-150,"m":0,"e":0,"x":0},
{"g":"BI","t":2010,"w":-50,"m":0.004,"e":0.001,"x":0.003},
{"g":"BI","t":2010,"w":50,"h":0.025,"m":0.027,"e":0.006,"x":0.02},
{"g":"BI","t":2010,"w":150,"h":0.064,"m":0.07,"e":0.022,"x":0.048},
{"g":"BI","t":2010,"w":250,"h":0.104,"m":0.113,"e":0.045,"x":0.068},
{"g":"BI","t":2010,"w":350,"h":0.138,"m":0.15,"e":0.075,"x":0.075},
{"g":"BI","t":2010,"w":450,"h":0.156,"m":0.17,"e":0.099,"x":0.071},
{"g":"BI","t":2010,"w":550,"h":0.144,"m":0.156,"e":0.108,"x":0.048},
{"g":"BI","t":2010,"w":650,"h":0.114,"m":0.124,"e":0.097,"x":0.027},
{"g":"BI","t":2010,"w":750,"h":0.086,"m":0.094,"e":0.077,"x":0.016},
{"g":"BI","t":2010,"w":850,"h":0.063,"m":0.069,"e":0.056,"x":0.01},
{"g":"BI","t":2010,"w":950,"h":0.045,"m":0.049,"e":0.04,"x":0.006},
{"g":"BI","t":2010,"w":1050,"h":0.032,"m":0.035,"e":0.028,"x":0.004},
{"g":"BI","t":2010,"w":1150,"h":0.024,"m":0.026,"e":0.019,"x":0.003},
{"g":"BI","t":2010,"w":1250,"h":0.017,"m":0.018,"e":0.013,"x":0.002},
{"g":"BI","t":2010,"w":1350,"h":0.013,"m":0.014,"e":0.01,"x":0.002},
{"g":"BI","t":2010,"w":1450,"h":0.01,"m":0.011,"e":0.008,"x":0.002},
{"g":"BI","t":2010,"w":1800,"m":0.004,"e":0.003,"x":0.001},
{"g":"BI","t":2010,"w":2200,"m":0.002,"e":0.001,"x":0},
{"g":"BI","t":2010,"w":2600,"m":0.001,"e":0,"x":0},
{"g":"BN","t":2010,"w":-150,"m":0,"e":0,"x":0},
{"g":"BN","t":2010,"w":-50,"m":0.004,"e":0.001,"x":0.003},
{"g":"BN","t":2010,"w":50,"h":0.023,"m":0.025,"e":0.006,"x":0.019},
{"g":"BN","t":2010,"w":150,"h":0.06,"m":0.065,"e":0.02,"x":0.045},
{"g":"BN","t":2010,"w":250,"h":0.097,"m":0.105,"e":0.042,"x":0.063},
{"g":"BN","t":2010,"w":350,"h":0.129,"m":0.14,"e":0.07,"x":0.07},
{"g":"BN","t":2010,"w":450,"h":0.14,"m":0.152,"e":0.088,"x":0.064},
{"g":"BN","t":2010,"w":550,"h":0.133,"m":0.145,"e":0.1,"x":0.045},
{"g":"BN","t":2010,"w":650,"h":0.106,"m":0.115,"e":0.09,"x":0.025},
{"g":"BN","t":2010,"w":750,"h":0.08,"m":0.087,"e":0.072,"x":0.015},
{"g":"BN","t":2010,"w":850,"h":0.059,"m":0.064,"e":0.052,"x":0.009},
{"g":"BN","t":2010,"w":950,"h":0.042,"m":0.046,"e":0.037,"x":0.006},
{"g":"BN","t":2010,"w":1050,"h":0.03,"m":0.033,"e":0.026,"x":0.004},
{"g":"BN","t":2010,"w":1150,"h":0.022,"m":0.024,"e":0.018,"x":0.003},
{"g":"BN","t":2010,"w":1250,"h":0.016,"m":0.017,"e":0.012,"x":0.002},
{"g":"BN","t":2010,"w":1350,"h":0.012,"m":0.013,"e":0.009,"x":0.002},
{"g":"BN","t":2010,"w":1450,"h":0.009,"m":0.01,"e":0.007,"x":0.002},
{"g":"BN","t":2010,"w":1800,"m":0.004,"e":0.003,"x":0.001},
{"g":"BN","t":2010,"w":2200,"m":0.002,"e":0.001,"x":0},
{"g":"BN","t":2010,"w":2600,"m":0.001,"e":0,"x":0},
{"g":"HI","t":2010,"w":-150,"m":0,"e":0,"x":0},
{"g":"HI","t":2010,"w":-50,"m":0.006,"e":0.001,"x":0.005},
{"g":"HI","t":2010,"w":50,"h":0.043,"m":0.047,"e":0.008,"x":0.039},
{"g":"HI","t":2010,"w":150,"h":0.135,"m":0.147,"e":0.052,"x":0.095},
{"g":"HI","t":2010,"w":250,"h":0.245,"m":0.195,"e":0.105,"x":0.09},
{"g":"HI","t":2010,"w":350,"h":0.145,"m":0.158,"e":0.126,"x":0.032},
{"g":"HI","t":2010,"w":450,"h":0.097,"m":0.105,"e":0.095,"x":0.011},
{"g":"HI","t":2010,"w":550,"h":0.064,"m":0.07,"e":0.063,"x":0.006},
{"g":"HI","t":2010,"w":650,"h":0.045,"m":0.049,"e":0.044,"x":0.004},
{"g":"HI","t":2010,"w":750,"h":0.034,"m":0.037,"e":0.03,"x":0.003},
{"g":"HI","t":2010,"w":850,"h":0.026,"m":0.028,"e":0.022,"x":0.003},
{"g":"HI","t":2010,"w":950,"h":0.02,"m":0.022,"e":0.017,"x":0.002},
{"g":"HI","t":2010,"w":1050,"h":0.017,"m":0.018,"e":0.013,"x":0.002},
{"g":"HI","t":2010,"w":1150,"h":0.014,"m":0.015,"e":0.01,"x":0.002},
{"g":"HI","t":2010,"w":1250,"h":0.011,"m":0.012,"e":0.008,"x":0.001},
{"g":"HI","t":2010,"w":1350,"h":0.008,"m":0.009,"e":0.006,"x":0.001},
{"g":"HI","t":2010,"w":1450,"h":0.007,"m":0.008,"e":0.005,"x":0.001},
{"g":"HI","t":2010,"w":1800,"m":0.005,"e":0.003,"x":0.001},
{"g":"HI","t":2010,"w":2200,"m":0.002,"e":0.001,"x":0},
{"g":"HI","t":2010,"w":2600,"m":0.001,"e":0,"x":0},
{"g":"HN","t":2010,"w":-150,"m":0,"e":0,"x":0},
{"g":"HN","t":2010,"w":-50,"m":0.004,"e":0.001,"x":0.003},
{"g":"HN","t":2010,"w":50,"h":0.025,"m":0.027,"e":0.006,"x":0.02},
{"g":"HN","t":2010,"w":150,"h":0.064,"m":0.07,"e":0.022,"x":0.048},
{"g":"HN","t":2010,"w":250,"h":0.104,"m":0.113,"e":0.045,"x":0.068},
{"g":"HN","t":2010,"w":350,"h":0.138,"m":0.15,"e":0.075,"x":0.075},
{"g":"HN","t":2010,"w":450,"h":0.156,"m":0.17,"e":0.099,"x":0.071},
{"g":"HN","t":2010,"w":550,"h":0.144,"m":0.156,"e":0.108,"x":0.048},
{"g":"HN","t":2010,"w":650,"h":0.114,"m":0.124,"e":0.097,"x":0.027},
{"g":"HN","t":2010,"w":750,"h":0.086,"m":0.094,"e":0.077,"x":0.016},
{"g":"HN","t":2010,"w":850,"h":0.063,"m":0.069,"e":0.056,"x":0.01},
{"g":"HN","t":2010,"w":950,"h":0.045,"m":0.049,"e":0.04,"x":0.006},
{"g":"HN","t":2010,"w":1050,"h":0.032,"m":0.035,"e":0.028,"x":0.004},
{"g":"HN","t":2010,"w":1150,"h":0.024,"m":0.026,"e":0.019,"x":0.003},
{"g":"HN","t":2010,"w":1250,"h":0.017,"m":0.018,"e":0.013,"x":0.002},
{"g":"HN","t":2010,"w":1350,"h":0.013,"m":0.014,"e":0.01,"x":0.002},
{"g":"HN","t":2010,"w":1450,"h":0.01,"m":0.011,"e":0.008,"x":0.002},
{"g":"HN","t":2010,"w":1800,"m":0.004,"e":0.003,"x":0.001},
{"g":"HN","t":2010,"w":2200,"m":0.002,"e":0.001,"x":0},
{"g":"HN","t":2010,"w":2600,"m":0.001,"e":0,"x":0},
{"g":"WI","t":2010,"w":50,"h":0.027},
{"g":"WI","t":2010,"w":150,"h":0.079},
{"g":"WI","t":2010,"w":250,"h":0.116},
{"g":"WI","t":2010,"w":350,"h":0.11},
{"g":"WI","t":2010,"w":450,"h":0.098},
{"g":"WI","t":2010,"w":550,"h":0.084},
{"g":"WI","t":2010,"w":650,"h":0.074},
{"g":"WI","t":2010,"w":750,"h":0.058},
{"g":"WI","t":2010,"w":850,"h":0.046},
{"g":"WI","t":2010,"w":950,"h":0.035},
{"g":"WI","t":2010,"w":1050,"h":0.029},
{"g":"WI","t":2010,"w":1150,"h":0.025},
{"g":"WI","t":2010,"w":1250,"h":0.021},
{"g":"WI","t":2010,"w":1350,"h":0.017},
{"g":"WI","t":2010,"w":1450,"h":0.014},
{"g":"WI","t":2010,"w":1550,"h":0.011},
{"g":"WI","t":2010,"w":1650,"h":0.01},
{"g":"WI","t":2010,"w":1750,"h":0.008},
{"g":"WI","t":2010,"w":1850,"h":0.007},
{"g":"WI","t":2010,"w":1950,"h":0.007},
{"g":"WI","t":2010,"w":2050,"h":0.006},
{"g":"WI","t":2010,"w":2150,"h":0.006},
{"g":"WI","t":2010,"w":2250,"h":0.005},
{"g":"WI","t":2010,"w":2350,"h":0.005},
{"g":"WI","t":2010,"w":2450,"h":0.005},
{"g":"WN","t":2010,"w":-150,"m":0,"e":0,"x":0,"r":"2010"},
{"g":"WN","t":2010,"w":-50,"m":0.004,"e":0.001,"x":0.003},
{"g":"WN","t":2010,"w":50,"h":0.02,"m":0.022,"e":0.005,"x":0.017},
{"g":"WN","t":2010,"w":150,"h":0.05,"m":0.055,"e":0.017,"x":0.038},
{"g":"WN","t":2010,"w":250,"h":0.082,"m":0.09,"e":0.036,"x":0.054},
{"g":"WN","t":2010,"w":350,"h":0.11,"m":0.12,"e":0.06,"x":0.06},
{"g":"WN","t":2010,"w":450,"h":0.124,"m":0.135,"e":0.079,"x":0.056},
{"g":"WN","t":2010,"w":550,"h":0.118,"m":0.128,"e":0.089,"x":0.039},
{"g":"WN","t":2010,"w":650,"h":0.096,"m":0.104,"e":0.081,"x":0.022},
{"g":"WN","t":2010,"w":750,"h":0.072,"m":0.078,"e":0.065,"x":0.013},
{"g":"WN","t":2010,"w":850,"h":0.053,"m":0.058,"e":0.047,"x":0.008},
{"g":"WN","t":2010,"w":950,"h":0.038,"m":0.041,"e":0.033,"x":0.005},
{"g":"WN","t":2010,"w":1050,"h":0.028,"m":0.03,"e":0.023,"x":0.004},
{"g":"WN","t":2010,"w":1150,"h":0.02,"m":0.022,"e":0.016,"x":0.003},
{"g":"WN","t":2010,"w":1250,"h":0.014,"m":0.015,"e":0.011,"x":0.002},
{"g":"WN","t":2010,"w":1350,"h":0.011,"m":0.012,"e":0.008,"x":0.002},
{"g":"WN","t":2010,"w":1450,"h":0.008,"m":0.009,"e":0.006,"x":0.002},
{"g":"WN","t":2010,"w":1800,"m":0.004,"e":0.003,"x":0.001},
{"g":"WN","t":2010,"w":2200,"m":0.002,"e":0.001,"x":0},
{"g":"WN","t":2010,"w":2600,"m":0.001,"e":0,"x":0}
  ]},
  "facet": {
    "column": {"field": "g", "type": "nominal", "header": {"labels": false, "labelPadding": 0, "title": "Weekly Wage (1999 USD)", "titleOrient": "bottom", "titlePadding": -3}},
    "row": {"field": "t", "type": "ordinal", "header": {"labels": false, "labelPadding": 0, "title": "f(w|a)", "titleOrient": "left", "titlePadding": -9}}
  },
  "spec": {
    "width": 63,
    "height": 88,
    "layer": [
      {"transform": [{"filter": {"field": "w", "equal": 450}}], "mark": {"type": "rule", "color": "#EBEBEB", "strokeWidth": 0.5}, "encoding": {"x": {"datum": 500}}},
      {"transform": [{"filter": {"field": "w", "equal": 450}}], "mark": {"type": "rule", "color": "#EBEBEB", "strokeWidth": 0.5}, "encoding": {"x": {"datum": 1500}}},
      {"transform": [{"filter": {"field": "w", "equal": 450}}], "mark": {"type": "rule", "color": "#EBEBEB", "strokeWidth": 0.5}, "encoding": {"x": {"datum": 2500}}},
      {"transform": [{"filter": {"field": "w", "equal": 450}}], "mark": {"type": "rule", "color": "#EBEBEB", "strokeWidth": 0.5}, "encoding": {"y": {"datum": 0.025}}},
      {"transform": [{"filter": {"field": "w", "equal": 450}}], "mark": {"type": "rule", "color": "#EBEBEB", "strokeWidth": 0.5}, "encoding": {"y": {"datum": 0.075}}},
      {"transform": [{"filter": {"field": "w", "equal": 450}}], "mark": {"type": "rule", "color": "#EBEBEB", "strokeWidth": 0.5}, "encoding": {"y": {"datum": 0.125}}},
      {"transform": [{"filter": {"field": "w", "equal": 450}}], "mark": {"type": "rule", "color": "#EBEBEB", "strokeWidth": 0.5}, "encoding": {"y": {"datum": 0.175}}},
      {"transform": [{"filter": {"field": "w", "equal": 450}}], "mark": {"type": "rule", "color": "#EBEBEB", "strokeWidth": 0.5}, "encoding": {"y": {"datum": 0.225}}},
      {
        "transform": [{"filter": {"field": "h", "valid": true}}],
        "mark": {"type": "bar", "orient": "vertical", "width": 2.03, "color": "#C4C4C4", "stroke": "white", "strokeWidth": 0.2},
        "encoding": {
          "x": {"field": "w", "type": "quantitative", "title": null,
            "scale": {"domain": [-345, 2760], "nice": false, "zero": false, "padding": 0},
            "axis": {"tickCount": 3, "format": "d", "labelOverlap": false, "labelFlush": false}},
          "y": {"field": "h", "type": "quantitative", "title": null,
            "scale": {"domain": [-0.0125, 0.2625], "nice": false, "padding": 0},
            "axis": {"tickCount": 5, "format": ".2f", "labelOverlap": false, "labelFlush": false}}
        }
      },
      {
        "transform": [{"fold": ["m", "e", "x"], "as": ["k", "v"]}, {"filter": {"field": "v", "valid": true}}],
        "mark": {"type": "line", "color": "black", "strokeWidth": 1.1, "interpolate": "monotone"},
        "encoding": {
          "x": {"field": "w", "type": "quantitative", "title": null},
          "y": {"field": "v", "type": "quantitative", "title": null},
          "strokeDash": {"field": "k", "type": "nominal",
            "scale": {"domain": ["m", "e", "x"], "range": [[1, 0], [1.2, 2.2], [4, 3]]},
            "legend": {"title": null, "orient": "none", "legendX": 445, "legendY": 218,
              "symbolType": "stroke", "symbolStrokeColor": "black", "symbolStrokeWidth": 1.1, "symbolSize": 185,
              "labelFontSize": 9.2, "labelColor": "black", "labelOffset": 8, "rowPadding": 4,
              "labelExpr": "datum.label == 'm' ? 'marginal' : datum.label == 'e' ? 'entry' : 'exit'"}}
        }
      },
      {
        "transform": [{"filter": {"field": "s", "valid": true}}],
        "mark": {"type": "rect", "fill": "#D9D9D9", "stroke": "#333333", "strokeWidth": 0.8, "y2Offset": -19},
        "encoding": {"x": {"datum": -345}, "x2": {"datum": 2760}, "y": {"datum": 0.2625}, "y2": {"datum": 0.2625}}
      },
      {
        "transform": [{"filter": {"field": "s", "valid": true}}],
        "mark": {"type": "text", "fontSize": 9.2, "color": "#1A1A1A", "limit": 62, "ellipsis": "", "yOffset": -9.5},
        "encoding": {"x": {"datum": 1207}, "y": {"datum": 0.2625}, "text": {"field": "s"}}
      },
      {
        "transform": [{"filter": {"field": "r", "valid": true}}],
        "mark": {"type": "rect", "fill": "#D9D9D9", "stroke": "#333333", "strokeWidth": 0.8, "x2Offset": 18},
        "encoding": {"x": {"datum": 2760}, "x2": {"datum": 2760}, "y": {"datum": -0.0125}, "y2": {"datum": 0.2625}}
      },
      {
        "transform": [{"filter": {"field": "r", "valid": true}}],
        "mark": {"type": "text", "fontSize": 9.2, "color": "#1A1A1A", "angle": 90, "xOffset": 9},
        "encoding": {"x": {"datum": 2760}, "y": {"datum": 0.125}, "text": {"field": "r"}}
      }
    ]
  },
  "config": {
    "font": "Liberation Sans",
    "view": {"stroke": "#333333", "strokeWidth": 0.8},
    "axis": {"domain": false, "tickColor": "#333333", "tickWidth": 0.8, "tickSize": 3.5, "labelColor": "#4D4D4D", "labelFontSize": 9, "labelPadding": 1.5, "gridColor": "#EBEBEB", "gridWidth": 0.9},
    "header": {"titleFontWeight": "normal", "titleFontSize": 10.5, "titleColor": "black"}
  }
}
